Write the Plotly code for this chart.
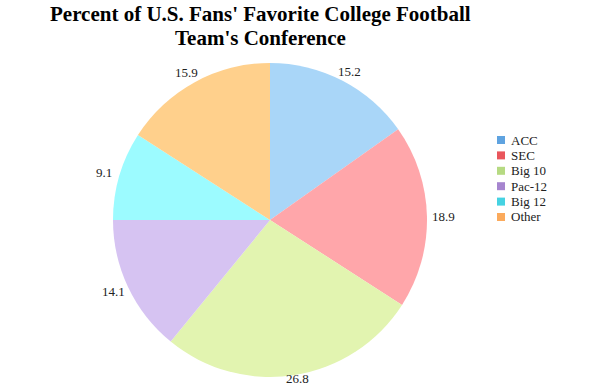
import math
import plotly.graph_objects as go

conferences = ["ACC", "SEC", "Big 10", "Pac-12", "Big 12", "Other"]
percents = [15.2, 18.9, 26.8, 14.1, 9.1, 15.9]
slice_colors = ["#A9D6F8", "#FFA6AA", "#E2F4B0", "#D6C3F2", "#9CFBFF", "#FFD08C"]
legend_colors = ["#5FA3E0", "#E9565C", "#B6DA82", "#A685CF", "#45D2E2", "#FBAA5C"]
title_lines = ["Percent of U.S. Fans' Favorite College Football", "Team's Conference"]

W, H = 605, 389
cx, cy, r = 270, 220, 157
SERIF = "Liberation Serif"

fig = go.Figure()
fig.add_trace(go.Pie(
    labels=conferences,
    values=percents,
    sort=False,
    direction="clockwise",
    rotation=0,
    marker=dict(colors=slice_colors, line=dict(width=0)),
    textinfo="none",
    showlegend=False,
    hoverinfo="label+value",
    domain=dict(x=[(cx - r) / W, (cx + r) / W], y=[(H - cy - r) / H, (H - cy + r) / H]),
))

# Two-line title, one annotation per line for tight spacing
annotations = []
for i, line in enumerate(title_lines):
    annotations.append(dict(
        text=line, xref="paper", yref="paper", x=260 / W, y=1 - (14 + 24 * i) / H,
        xanchor="center", yanchor="middle", showarrow=False,
        font=dict(family=SERIF, size=21, color="#000000", weight="bold"),
    ))

# Value labels just outside each slice, at the slice's mid-angle,
# kept inside the page vertically
total = sum(percents)
lab_w, lab_h, gap = 25, 13, 4
cum = 0.0
for v in percents:
    theta = 2 * math.pi * (cum + v / 2) / total
    cum += v
    ux, uy = math.sin(theta), -math.cos(theta)
    px = cx + (r + gap) * ux + lab_w / 2 * ux
    py = cy + (r + gap) * uy + lab_h / 2 * uy
    py = min(max(py, lab_h / 2 + 6), H - lab_h / 2 - 4)
    annotations.append(dict(
        text=f"{v:.1f}", xref="paper", yref="paper",
        x=px / W, y=1 - py / H, xanchor="center", yanchor="middle",
        showarrow=False, font=dict(family=SERIF, size=13, color="#222222"),
    ))

# Legend: square swatch plus label per conference
shapes = []
leg_x, leg_y0, leg_dy, sw = 497, 140, 15.4, 8
for i, (name, col) in enumerate(zip(conferences, legend_colors)):
    yc = leg_y0 + i * leg_dy
    shapes.append(dict(
        type="rect", xref="paper", yref="paper",
        x0=leg_x / W, x1=(leg_x + sw) / W,
        y0=1 - (yc + sw / 2) / H, y1=1 - (yc - sw / 2) / H,
        fillcolor=col, line=dict(width=0),
    ))
    annotations.append(dict(
        text=name, xref="paper", yref="paper",
        x=(leg_x + sw + 4) / W, y=1 - yc / H,
        xanchor="left", yanchor="middle", showarrow=False,
        font=dict(family=SERIF, size=13, color="#222222"),
    ))

fig.update_layout(
    width=W, height=H,
    margin=dict(l=0, r=0, t=0, b=0),
    paper_bgcolor="white", plot_bgcolor="white",
    annotations=annotations, shapes=shapes,
)

fig.write_html("out.html")
